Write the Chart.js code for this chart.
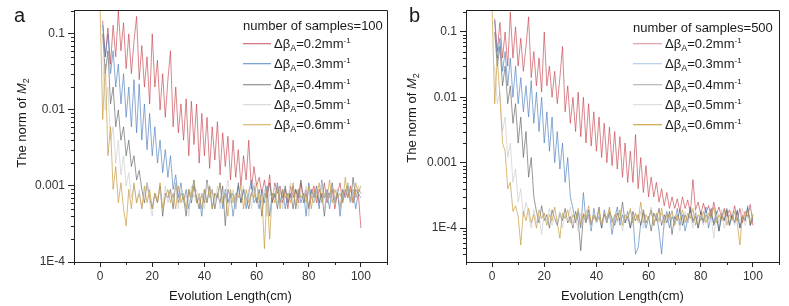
<!DOCTYPE html>
<html>
<head>
<meta charset="utf-8">
<script src="https://cdn.jsdelivr.net/npm/chart.js@4.4.1/dist/chart.umd.min.js"></script>
<style>
  body { margin: 0; background: #fff; }
  .panel { position: absolute; top: 0; height: 306px; }
</style>
</head>
<body>
<div class="panel" style="left:0;width:395px"><canvas id="chartA" width="395" height="306"></canvas></div>
<div class="panel" style="left:395px;width:394px"><canvas id="chartB" width="394" height="306"></canvas></div>
<script>
// evolution length (cm), shared by every curve
const lengths = [0,1,2,3,4,5,6,7,8,9,10,11,12,13,14,15,16,17,18,19,20,21,22,23,24,25,26,27,28,29,30,
  31,32,33,34,35,36,37,38,39,40,41,42,43,44,45,46,47,48,49,50,51,52,53,54,55,56,57,58,59,60,
  61,62,63,64,65,66,67,68,69,70,71,72,73,74,75,76,77,78,79,80,81,82,83,84,85,86,87,88,89,90,
  91,92,93,94,95,96,97,98,99,100];

const betaValues = ['0.2', '0.3', '0.4', '0.5', '0.6'];
const xTicks = [0, 20, 40, 60, 80, 100];
const xMinorTicks = [-10, 10, 30, 50, 70, 90, 110];
const yTicks = [1e-4, 1e-3, 1e-2, 1e-1];
const yTickLabels = ['1E-4', '0.001', '0.01', '0.1'];

// ---- panel a : number of samples = 100 ----
const redA = [null,
  0.15,0.05,0.12,0.04,0.13,0.05,0.2,0.06,0.14,0.035,
  0.1,0.03,0.08,0.17,0.025,0.07,0.02,0.05,0.012,0.1,
  0.02,0.045,0.01,0.03,0.008,0.025,0.06,0.006,0.02,0.005,
  0.012,0.004,0.014,0.0025,0.013,0.0035,0.012,0.002,0.009,0.0025,
  0.008,0.0017,0.006,0.0022,0.007,0.0014,0.005,0.0018,0.0045,0.0012,
  0.004,0.0013,0.003,0.001,0.0025,0.0012,0.004,0.0009,0.0018,0.001,
  0.0013,0.0008,0.0012,0.0007,0.0014,0.0006,0.0011,0.0008,0.001,0.0006,
  0.0009,0.0005,0.001,0.0007,0.0009,0.0006,0.0011,0.0007,0.0009,0.0005,
  0.0008,0.001,0.0006,0.0009,0.0007,0.0011,0.0006,0.0008,0.0009,0.0005,
  0.0008,0.0011,0.0006,0.0009,0.0007,0.001,0.0006,0.0009,0.0008,0.00028];

const blueA = [null,
  0.13,0.05,0.1,0.03,0.06,0.02,0.04,0.012,0.03,0.008,
  0.02,0.006,0.025,0.005,0.022,0.004,0.012,0.003,0.009,0.0025,
  0.006,0.002,0.004,0.0015,0.003,0.0013,0.0025,0.0009,0.0014,0.0007,
  0.0011,0.0006,0.0009,0.0005,0.0008,0.0012,0.0006,0.0007,0.0004,0.0009,
  0.0006,0.001,0.0005,0.0008,0.0007,0.0011,0.0005,0.0009,0.0006,0.0008,
  0.0004,0.0007,0.001,0.0006,0.0009,0.0005,0.0008,0.0012,0.0006,0.0007,
  0.0005,0.0009,0.0006,0.001,0.0004,0.0008,0.0007,0.0011,0.0006,0.0009,
  0.0005,0.0008,0.0007,0.001,0.0005,0.0009,0.0006,0.0008,0.0004,0.0011,
  0.0007,0.0006,0.0009,0.0005,0.0012,0.0007,0.0008,0.0005,0.001,0.0006,
  0.0009,0.0004,0.0008,0.0007,0.0011,0.0006,0.0009,0.0005,0.0008,0.0007];

const darkA = [null,
  0.1,0.03,0.06,0.012,0.02,0.006,0.01,0.004,0.006,0.0025,
  0.004,0.0018,0.0025,0.0012,0.0016,
  0.0009,0.0006,0.0011,0.0007,0.0005,0.0008,0.0006,0.001,0.0004,0.0008,
  0.0007,0.0009,0.0005,0.0011,0.0006,0.0008,0.0007,0.0004,0.0009,0.0006,
  0.001,0.0007,0.0005,0.0008,0.0006,0.0012,0.0007,0.0009,0.0005,0.0008,
  0.0006,0.001,0.0003,0.0009,0.0007,0.0008,0.0005,0.0011,0.0006,0.0009,
  0.0007,0.0005,0.0008,0.001,0.0006,0.0009,0.0004,0.0008,0.0007,0.0011,
  0.0006,0.0008,0.0005,0.0009,0.0007,0.001,0.0006,0.0008,0.0005,0.0009,
  0.0007,0.0012,0.0006,0.0008,0.0005,0.0009,0.0007,0.001,0.0006,0.0008,
  0.0004,0.0009,0.0007,0.0011,0.0006,0.0008,0.0005,0.0009,0.0007,0.001,
  0.0006,0.0013,0.0007,0.0009,0.0008];

const lightA = [null,
  0.05,0.01,0.02,0.004,0.006,0.002,0.004,0.0014,0.0025,0.001,
  0.0015,
  0.0007,0.001,0.0006,0.0009,0.0005,0.0008,0.0011,0.0006,0.0004,0.0008,
  0.0007,0.0009,0.0005,0.001,0.0006,0.0008,0.0007,0.0011,0.0005,0.0009,
  0.0006,0.0008,0.0004,0.001,0.0007,0.0009,0.0006,0.0008,0.0005,0.0011,
  0.0007,0.0009,0.0006,0.001,0.0005,0.0008,0.0007,0.0012,0.0006,0.0009,
  0.0005,0.0008,0.0007,0.001,0.0006,0.0009,0.0005,0.0011,0.0007,0.0008,
  0.0006,0.0009,0.0004,0.0008,0.0007,0.001,0.0006,0.0009,0.0005,0.0008,
  0.0007,0.0011,0.0006,0.0008,0.0005,0.0009,0.0007,0.001,0.0004,0.0008,
  0.0006,0.0009,0.0007,0.0011,0.0005,0.0008,0.0007,0.001,0.0006,0.0009,
  0.0005,0.0008,0.0007,0.0011,0.0006,0.0009,0.0007,0.001,0.0008];

const goldA = [0.22,
  0.0075,0.04,0.0025,0.006,0.0009,0.0018,0.0006,0.0011,0.0005,0.0003,
  0.0009,0.0005,0.0011,0.0006,0.0008,0.0005,0.001,0.0006,0.0009,0.0005,
  0.0008,0.0006,0.0011,0.0005,0.0007,0.0009,0.0006,0.0008,0.0005,0.001,
  0.0006,0.0008,0.0005,0.0009,0.0007,0.0012,0.0006,0.0008,0.0005,0.0009,
  0.0006,0.001,0.0005,0.0008,0.0007,0.0011,0.0006,0.0008,0.0004,0.0009,
  0.0006,0.0008,0.0007,0.001,0.0005,0.0009,0.0006,0.0008,0.0007,0.0011,
  0.0006,0.0008,0.00015,0.0009,0.0002,0.0008,0.0006,0.001,0.0005,0.0009,
  0.0007,0.0008,0.0006,0.0011,0.0005,0.0009,0.0007,0.0008,0.0006,0.001,
  0.0005,0.0009,0.0007,0.0011,0.0006,0.0008,0.0007,0.0012,0.0006,0.0009,
  0.0007,0.0008,0.0006,0.0013,0.0007,0.0009,0.0006,0.0011,0.0008,0.001];

// ---- panel b : number of samples = 500 ----
const redB = [null,
  0.16,0.05,0.14,0.04,0.1,0.03,0.2,0.04,0.12,0.03,
  0.08,0.025,0.06,0.17,0.02,0.05,0.015,0.04,0.012,0.1,
  0.015,0.03,0.01,0.025,0.008,0.02,0.06,0.006,0.015,0.004,
  0.01,0.003,0.012,0.0025,0.01,0.002,0.008,0.0018,0.006,0.0015,
  0.005,0.0012,0.004,0.001,0.0035,0.0009,0.003,0.0008,0.0025,0.0006,
  0.002,0.0005,0.0015,0.0005,0.0027,0.0004,0.0012,0.00035,0.0009,0.0003,
  0.0006,0.0003,0.0005,0.00025,0.0004,0.00022,0.00035,0.0002,0.0003,0.0002,
  0.00028,0.00018,0.0003,0.0002,0.00027,0.00017,0.00055,0.00019,0.00025,0.00016,
  0.00024,0.00017,0.00022,0.00015,0.00025,0.00016,0.00021,0.00014,0.0002,0.00015,
  0.00019,0.00014,0.00022,0.00013,0.0002,0.00012,0.00018,0.00015,0.00023,0.00011];

const blueB = [null,
  0.15,0.04,0.08,0.025,0.05,0.015,0.04,0.01,0.03,0.008,
  0.02,0.006,0.015,0.005,0.018,0.004,0.012,0.003,0.01,0.002,
  0.006,0.0015,0.005,0.001,0.003,0.0008,0.002,0.0005,0.0012,0.0003,
  0.0002,0.00012,0.00018,0.0001,0.00035,0.00013,0.00016,0.00009,0.0002,0.00012,
  0.00015,0.0001,0.00019,0.00013,0.00017,0.00008,0.00014,0.00021,0.00011,0.00016,
  0.00012,0.00018,0.0001,0.00015,0.00004,0.00005,0.00012,0.00017,0.0001,0.00014,
  0.00019,0.00011,0.00016,0.00009,0.00004,0.00013,0.00018,0.0001,0.00015,0.00012,
  0.0002,0.00011,0.00016,0.00009,0.00014,0.00019,0.00012,0.00017,0.0001,0.00015,
  0.00013,0.00021,0.0001,0.00016,0.00012,0.00018,0.00009,0.00015,0.00013,0.0002,
  0.00011,0.00016,0.00012,0.00019,0.0001,0.00015,0.00013,0.00022,0.00011,0.00014];

const darkB = [null,
  0.1,0.03,0.06,0.015,0.03,0.008,0.015,0.004,0.008,0.002,
  0.005,0.0012,0.003,0.0006,0.0012,0.0003,
  0.00018,0.00012,0.00022,0.00013,0.00016,0.0001,0.00019,0.00014,0.00011,0.00017,
  0.00013,0.0002,0.00012,0.00015,0.0001,0.00018,0.00013,0.000045,0.00016,0.00012,
  0.00019,0.00011,0.00015,0.00013,0.00021,0.0001,0.00016,0.00012,0.00018,0.00014,
  0.00011,0.00017,0.00013,0.00025,0.00012,0.00015,0.0001,0.00018,0.00013,0.00016,
  0.00011,0.00019,0.00012,0.00015,0.00009,0.00017,0.00013,0.0002,0.00011,0.00016,
  0.00012,0.00018,0.00008,0.00015,0.00013,0.00019,0.00011,0.00016,0.00012,0.00021,
  0.00013,0.00015,0.0001,0.00018,0.00012,0.00016,0.00014,0.0002,0.00011,0.00015,
  0.00009,0.00017,0.00013,0.00019,0.00011,0.00016,0.00012,0.00018,0.0001,0.00015,
  0.00013,0.0002,0.00011,0.00016];

const lightB = [null,
  0.03,0.008,0.012,0.003,0.005,0.0012,0.002,0.0005,0.0008,0.00025,
  0.0004,0.00015,0.00025,
  0.00016,0.0001,0.00019,0.00012,0.00015,0.00008,0.00017,0.00013,0.0002,0.00011,
  0.00015,0.00012,0.00018,0.0001,0.00016,0.00013,0.00021,0.00011,0.00015,0.00009,
  0.00017,0.00012,0.00019,0.00014,0.0001,0.00016,0.00012,0.00018,0.00011,0.00015,
  0.00013,0.0002,0.0001,0.00016,0.00012,0.00017,0.00009,0.00015,0.00013,0.00019,
  0.00011,0.00016,0.00012,0.00018,0.0001,0.00015,0.00013,0.00021,0.00011,0.00016,
  0.00012,0.00017,0.0001,0.00015,0.00013,0.00019,0.00011,0.00016,0.00009,0.00014,
  0.00018,0.00012,0.00016,0.0001,0.00019,0.00013,0.00015,0.00011,0.00017,0.00013,
  0.00015,0.00007,0.00016,0.00012,0.00019,0.0001,0.00015,0.00013,0.00018,0.00011,
  0.00016,0.00012,0.0002,0.00011,0.00015,0.00013,0.00017];

const goldB = [0.22,
  0.008,0.04,0.01,0.002,0.0015,0.0004,0.0005,0.00018,0.00022,0.00015,
  0.000055,
  0.00018,0.00013,0.0002,0.00012,0.00016,0.0001,0.00019,0.00014,0.00017,0.00011,
  0.00016,0.00013,0.00021,0.00012,0.00007,0.00017,0.00014,0.00019,0.00012,0.00016,
  0.00013,0.0002,0.00011,0.00017,0.00014,0.00022,0.00012,0.00016,0.00013,0.00019,
  0.00011,0.00017,0.00014,0.00021,0.00012,0.00016,0.00013,0.00019,0.00011,0.00016,
  0.00014,0.0002,0.00012,0.00017,0.00013,0.00025,0.00012,0.00016,0.00014,0.00019,
  0.00011,0.00017,0.00013,0.0002,0.00012,0.00016,0.00014,0.00018,0.00011,0.00016,
  0.00013,0.00019,0.00012,0.00017,0.00014,0.0002,0.00011,0.00016,0.00013,0.00018,
  0.00012,0.00017,0.00014,0.00021,0.00012,0.00016,0.00013,0.00019,0.00011,0.00016,
  0.00013,0.00018,0.00012,0.000055,0.00016,0.00014,0.00019,0.00012,0.00016];

const FONT = 'Arial, "Liberation Sans", sans-serif';
const INK = '#1a1a1a';
const seriesColors = ['rgba(196,64,74,0.8)', 'rgba(72,122,188,0.8)', 'rgba(95,95,95,0.8)',
  'rgba(205,205,205,0.85)', 'rgba(198,152,58,0.85)'];

// draw a run of text pieces (for sub/superscripts), returns width
function drawRuns(ctx, x, y, runs, measureOnly) {
  let cx = x;
  runs.forEach(r => {
    ctx.font = (r.italic ? 'italic ' : '') + r.size + 'px ' + FONT;
    if (!measureOnly) ctx.fillText(r.text, cx, y + (r.dy || 0));
    cx += ctx.measureText(r.text).width;
  });
  return cx - x;
}

function buildChart(id, cfg) {
  const datasets = cfg.series.map((vals, i) => ({
    label: 'Δβ_A=' + betaValues[i] + 'mm^-1',
    data: vals,
    borderColor: seriesColors[i],
    borderWidth: 0.8,
    pointRadius: 0,
    tension: 0,
    order: cfg.series.length - i
  }));

  const decor = {
    id: 'decor',
    afterDraw(chart) {
      const ctx = chart.ctx, a = chart.chartArea;
      const xs = chart.scales.x, ys = chart.scales.y;
      ctx.save();
      ctx.strokeStyle = '#222';
      ctx.lineWidth = 1;
      // top / right frame
      ctx.beginPath();
      ctx.moveTo(a.left, Math.round(a.top) + 0.5);
      ctx.lineTo(Math.round(a.right) + 0.5, Math.round(a.top) + 0.5);
      ctx.lineTo(Math.round(a.right) + 0.5, a.bottom);
      ctx.stroke();
      // minor ticks
      ctx.beginPath();
      xMinorTicks.forEach(v => {
        const px = Math.round(xs.getPixelForValue(v)) + 0.5;
        ctx.moveTo(px, a.bottom); ctx.lineTo(px, a.bottom + 3);
      });
      [1e-5, 1e-4, 1e-3, 1e-2, 1e-1].forEach(d => {
        for (let k = 2; k <= 9; k++) {
          const v = k * d;
          if (v < ys.min || v > ys.max) continue;
          const py = Math.round(ys.getPixelForValue(v)) + 0.5;
          ctx.moveTo(a.left, py); ctx.lineTo(a.left - 3, py);
        }
      });
      ctx.stroke();

      ctx.fillStyle = INK;
      ctx.textBaseline = 'alphabetic';
      // panel letter
      ctx.font = '20px ' + FONT;
      ctx.fillText(cfg.letter, 14, 22);
      // x title
      ctx.font = '13px ' + FONT;
      ctx.textAlign = 'center';
      ctx.fillText('Evolution Length(cm)', (a.left + a.right) / 2, 300);
      ctx.textAlign = 'left';
      // y title
      const yRuns = [{text: 'The norm of ', size: 13}, {text: 'M', size: 13, italic: true},
        {text: '2', size: 9, dy: 3}];
      ctx.save();
      ctx.translate(cfg.yTitleX, cfg.yTitleY);
      ctx.rotate(-Math.PI / 2);
      const w = drawRuns(ctx, 0, 0, yRuns, true);
      drawRuns(ctx, -w / 2, 4.5, yRuns);
      ctx.restore();
      // legend
      const L = cfg.legend;
      ctx.font = '13px ' + FONT;
      ctx.fillText(cfg.legendTitle, L.x, L.titleY + 4.5);
      betaValues.forEach((b, i) => {
        const y = Math.round(L.firstY + i * L.step);
        ctx.fillStyle = cfg.legendColors[i];
        ctx.fillRect(L.x, y, L.lineLen, 1.3);
        ctx.fillStyle = INK;
        drawRuns(ctx, L.x + L.lineLen + 3, y + 5, [
          {text: 'Δβ', size: 13}, {text: 'A', size: 9, dy: 3},
          {text: '=' + b + 'mm', size: 13}, {text: '-1', size: 8, dy: -5}]);
      });
      ctx.restore();
    }
  };

  return new Chart(document.getElementById(id), {
    type: 'line',
    data: { labels: lengths, datasets: datasets },
    options: {
      responsive: false,
      animation: false,
      layout: { padding: { top: 7, right: cfg.padRight, left: 0, bottom: 0 } },
      plugins: { legend: { display: false }, tooltip: { enabled: false } },
      scales: {
        x: {
          type: 'linear', min: -10, max: 110,
          afterBuildTicks: s => { s.ticks = xTicks.map(v => ({ value: v })); },
          afterFit: s => { s.height = 44; },
          grid: { drawOnChartArea: false, tickLength: 5, tickColor: '#222' },
          border: { color: '#222' },
          ticks: { font: { family: FONT, size: 12 }, color: '#333', padding: 2, maxRotation: 0, autoSkip: false }
        },
        y: {
          type: 'logarithmic', min: cfg.yMin, max: cfg.yMax,
          afterBuildTicks: s => { s.ticks = yTicks.map(v => ({ value: v })); },
          afterFit: s => { s.width = cfg.axisWidth; },
          grid: { drawOnChartArea: false, tickLength: 6, tickColor: '#222' },
          border: { color: '#222' },
          ticks: { font: { family: FONT, size: 12 }, color: '#333', padding: 3, autoSkip: false,
            callback: (v, i) => yTickLabels[i] }
        }
      }
    },
    plugins: [decor]
  });
}

buildChart('chartA', {
  series: [redA, blueA, darkA, lightA, goldA],
  yMin: 1e-4, yMax: 0.205,
  axisWidth: 74, padRight: 8,
  letter: 'a',
  yTitleX: 21, yTitleY: 123,
  legendTitle: 'number of samples=100',
  legend: { x: 243, titleY: 25, firstY: 43, step: 20.3, lineLen: 28 },
  legendColors: ['#d27a81', '#7ba2d0', '#9a9a9a', '#dcdcdc', '#dcbd80']
});

buildChart('chartB', {
  series: [redB, blueB, darkB, lightB, goldB],
  yMin: 3.03e-5, yMax: 0.215,
  axisWidth: 71, padRight: 10,
  letter: 'b',
  yTitleX: 16, yTitleY: 118,
  legendTitle: 'number of samples=500',
  legend: { x: 238, titleY: 27, firstY: 43, step: 20.3, lineLen: 29 },
  legendColors: ['#e6a5aa', '#bcd1ea', '#bdbdbd', '#e0e0e0', '#d4ad5c']
});
</script>
</body>
</html>
